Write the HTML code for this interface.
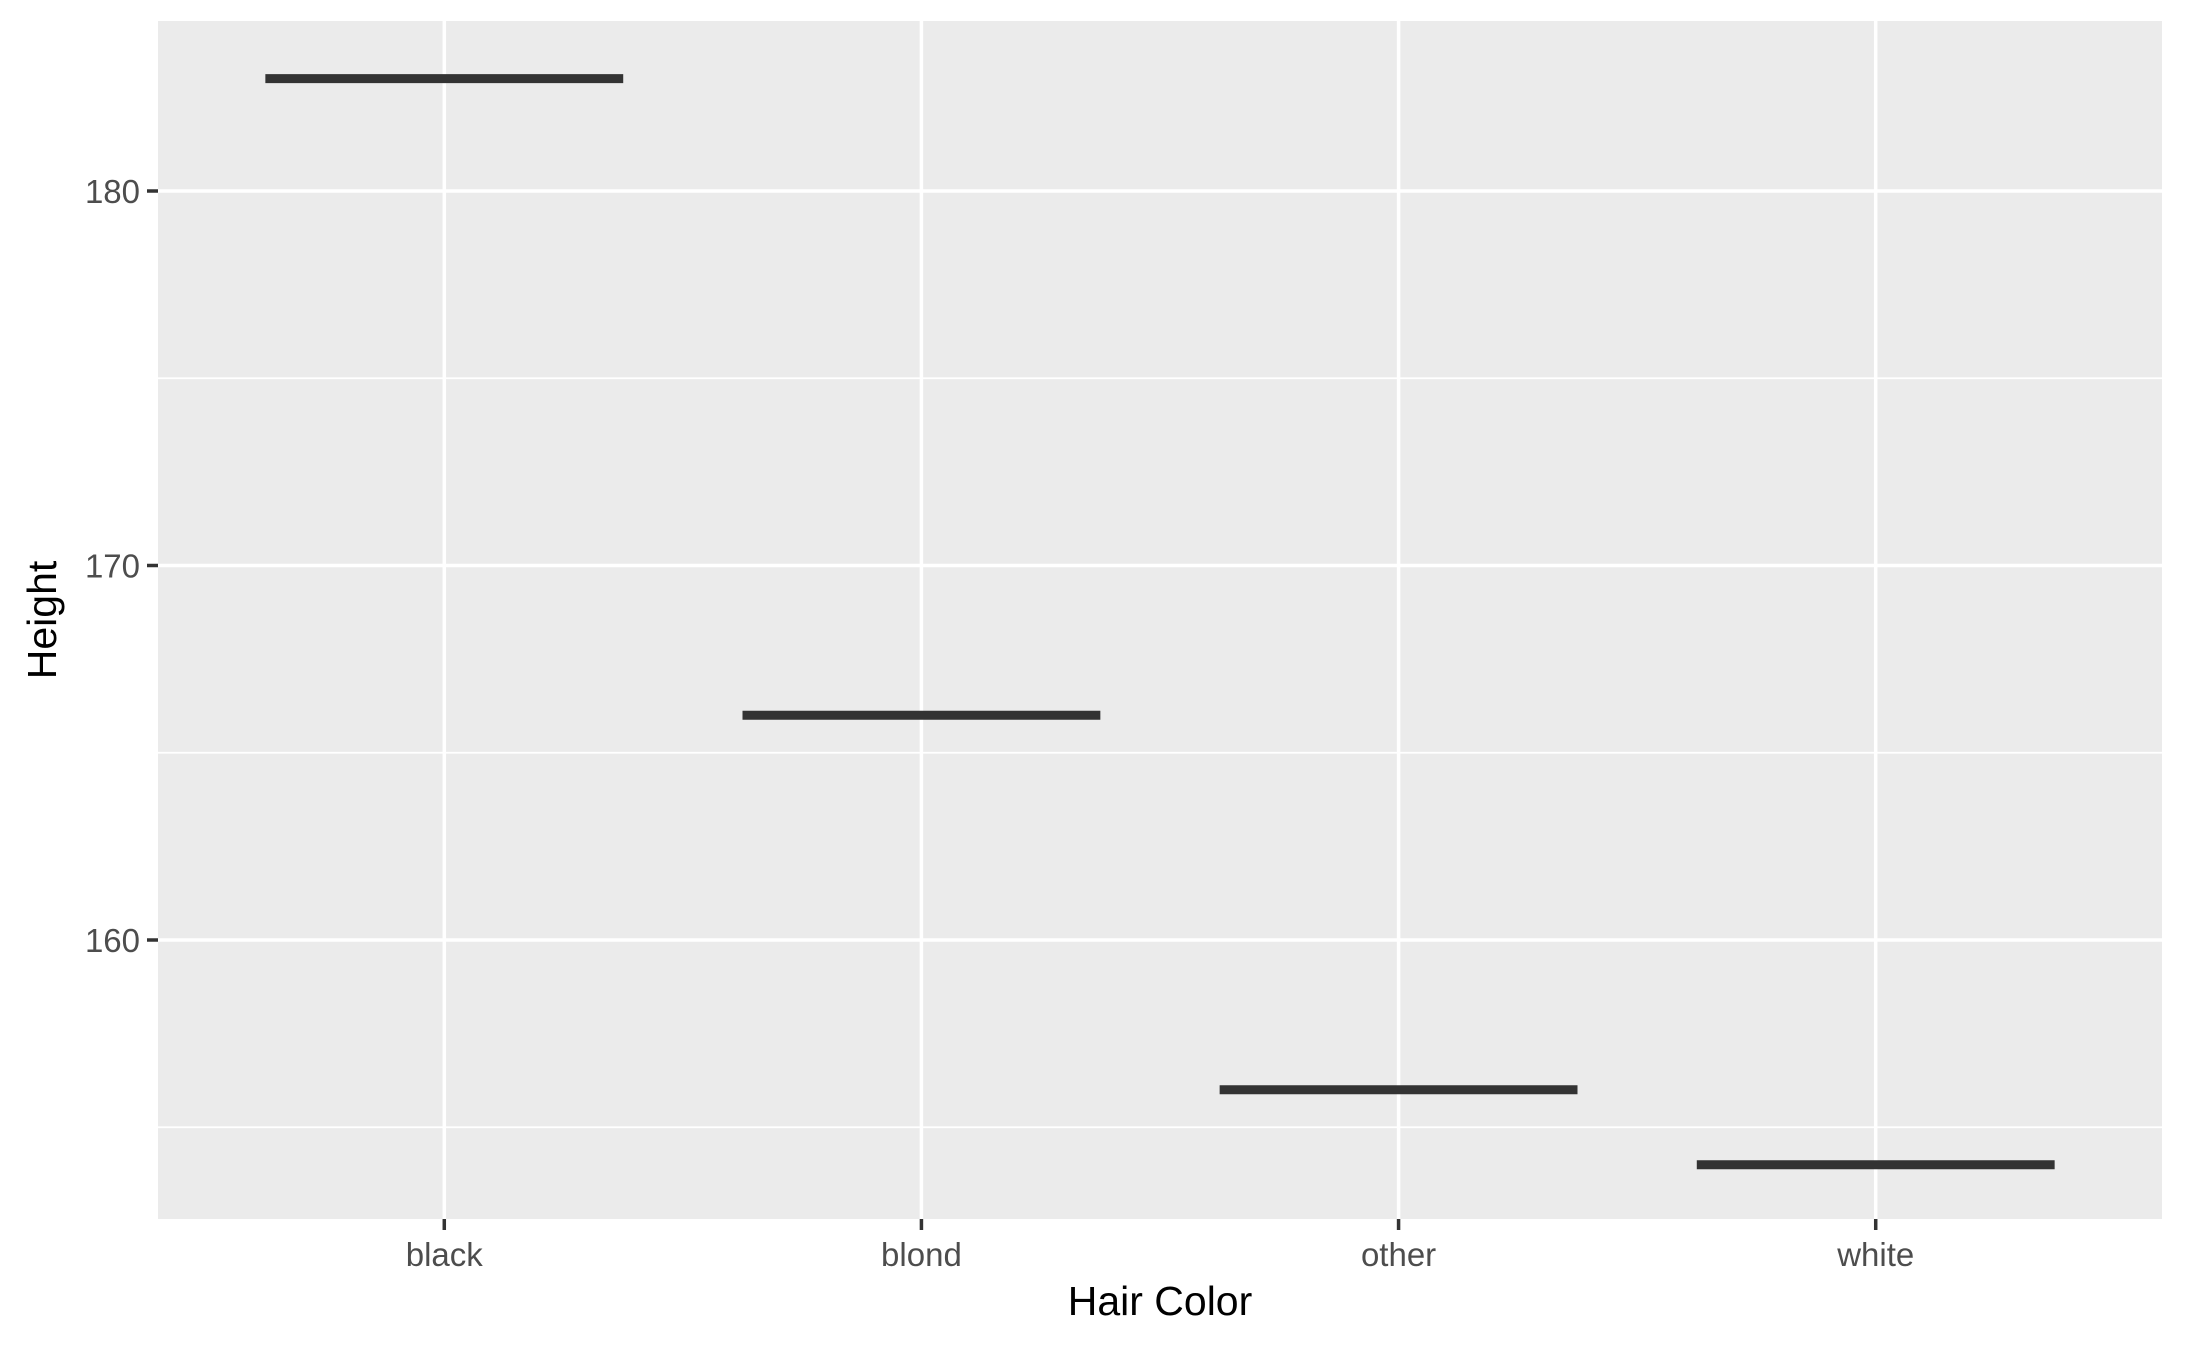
<!DOCTYPE html>
<html><head><meta charset="utf-8"><style>
body{margin:0;background:#fff}
svg text{font-family:"Liberation Sans",Arial,sans-serif}
</style></head><body>
<svg id="chart" width="2187" height="1349" xmlns="http://www.w3.org/2000/svg">
<rect x="0" y="0" width="2187" height="1349" fill="#fff"/>
<rect x="158" y="21" width="2004" height="1198" fill="#ebebeb"/>
<g id="grid"></g><g id="marks"></g><g id="axes"></g>
<text x="1160" y="1315" font-size="41" text-anchor="middle" fill="#000">Hair Color</text>
<text transform="translate(56,620) rotate(-90)" font-size="41" text-anchor="middle" fill="#000">Height</text>
</svg>
<script>
const categories = ["black","blond","other","white"];
const heights = [183, 166, 156, 154];
const yTicks = [160, 170, 180];
const yMinor = [155, 165, 175];
const ns="http://www.w3.org/2000/svg";
const PL=158,PR=2162,PT=21,PB=1219;
const step=(PR-PL)/(categories.length-1+1.2);
function xs(i){return PL+step*(0.6+i);}
function ys(v){return 191+(180-v)*37.45;}
function mk(tag,attrs,parent){const e=document.createElementNS(ns,tag);for(const k in attrs)e.setAttribute(k,attrs[k]);parent.appendChild(e);return e;}
const grid=document.getElementById('grid'),marks=document.getElementById('marks'),axes=document.getElementById('axes');
yMinor.forEach(v=>{const l=mk('line',{x1:PL,x2:PR,y1:ys(v),y2:ys(v),stroke:'#fff','stroke-width':1.8},grid);

});
yTicks.forEach(v=>{const l=mk('line',{x1:PL,x2:PR,y1:ys(v),y2:ys(v),stroke:'#fff','stroke-width':3.5},grid);


const t=mk('line',{x1:147,x2:PL,y1:ys(v),y2:ys(v),stroke:'#333','stroke-width':3.5},axes);


const tx=mk('text',{x:140,y:ys(v)+12,'font-size':33,'text-anchor':'end',fill:'#4d4d4d'},axes);tx.textContent=v;

});
categories.forEach((c,i)=>{const x=xs(i);
const g=mk('line',{x1:x,x2:x,y1:PT,y2:PB,stroke:'#fff','stroke-width':3.5},grid);


const t=mk('line',{x1:x,x2:x,y1:PB,y2:PB+11,stroke:'#333','stroke-width':3.5},axes);


const tx=mk('text',{x:x,y:1266,'font-size':33,'text-anchor':'middle',fill:'#4d4d4d'},axes);tx.textContent=c;


const w=step*0.75;
const b=mk('line',{x1:x-w/2,x2:x+w/2,y1:ys(heights[i]),y2:ys(heights[i]),stroke:'#333','stroke-width':9},marks);

});
</script>
</body></html>
